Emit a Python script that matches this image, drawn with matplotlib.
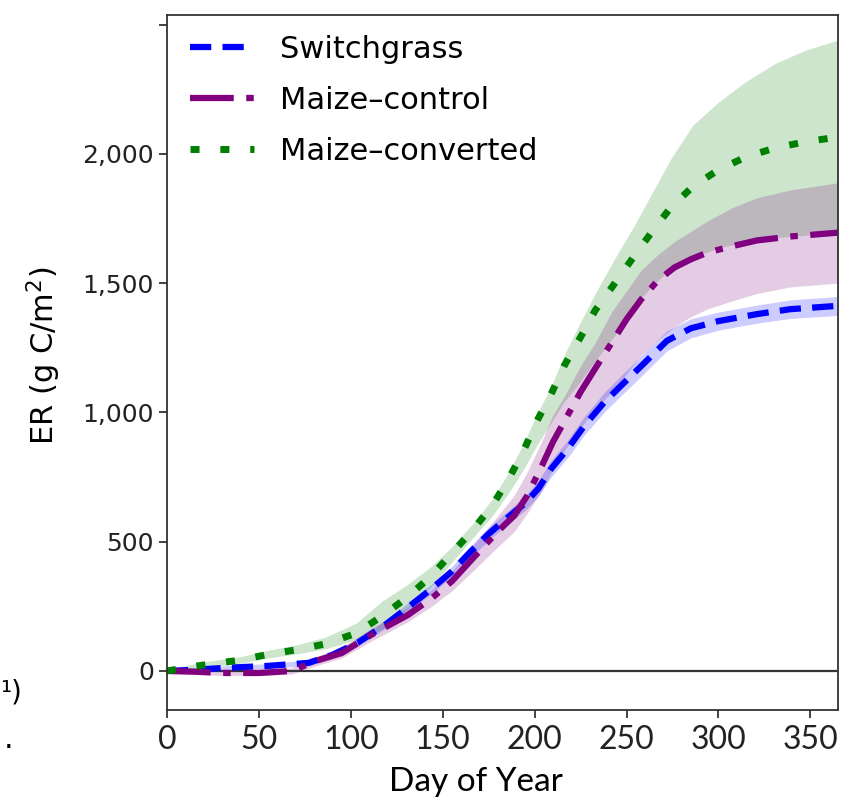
import matplotlib
matplotlib.use('Agg')
import matplotlib.pyplot as plt
from matplotlib.ticker import FuncFormatter

# --- данные ---
sg_day = [0, 14, 32, 54, 77, 90, 104, 119, 131, 144, 155, 165, 175, 184, 195, 202,
          209, 218, 227, 238, 249, 258, 272, 285, 300, 321, 339, 365]
sg_mean = [0, 4, 12, 19, 31, 62, 110, 180, 245, 318, 385, 460, 530, 585, 650, 705,
           782, 859, 948, 1040, 1117, 1179, 1277, 1325, 1353, 1380, 1399, 1412]
sg_lo = [0, -4, 4, 10, 20, 48, 98, 165, 228, 300, 365, 438, 505, 560, 622, 675,
         750, 825, 912, 1002, 1078, 1140, 1238, 1288, 1318, 1345, 1363, 1375]
sg_hi = [6, 12, 20, 28, 42, 76, 124, 195, 262, 336, 405, 482, 555, 610, 678, 735,
         814, 893, 984, 1078, 1156, 1218, 1316, 1362, 1388, 1415, 1435, 1448]

mc_day = [0, 15, 30, 50, 68, 81, 95, 111, 131, 144, 155, 167, 180, 189, 196, 204,
          210, 216, 225, 233, 242, 250, 258, 267, 276, 285, 294, 307, 321, 339, 365]
mc_mean = [0, -3, -8, -8, 0, 39, 69, 139, 216, 281, 347, 440, 540, 601, 678, 794,
           886, 963, 1079, 1170, 1270, 1360, 1437, 1510, 1560, 1592, 1618, 1642, 1665, 1680, 1695]
mc_lo = [-10, -13, -18, -18, -12, 20, 50, 115, 190, 250, 310, 390, 480, 540, 610, 700,
         780, 850, 940, 1010, 1080, 1150, 1220, 1280, 1330, 1370, 1400, 1430, 1460, 1485, 1500]
mc_hi = [10, 7, 2, 2, 12, 55, 90, 165, 245, 315, 385, 490, 600, 680, 770, 890,
         990, 1060, 1180, 1270, 1390, 1470, 1550, 1610, 1660, 1700, 1740, 1790, 1830, 1860, 1888]

cv_day = [0, 20, 40, 55, 70, 86, 103, 117, 130, 143, 155, 167, 177, 186, 194, 201,
          209, 216, 225, 233, 244, 254, 264, 274, 286, 300, 315, 331, 347, 365]
cv_mean = [0, 23, 42, 64, 81, 104, 146, 212, 281, 362, 455, 551, 640, 744, 852, 963,
           1071, 1179, 1291, 1395, 1503, 1603, 1700, 1792, 1873, 1938, 1988, 2023, 2046, 2065]
cv_lo = [-5, 12, 30, 50, 65, 85, 120, 160, 235, 320, 420, 520, 600, 690, 780, 870,
         960, 1040, 1120, 1200, 1300, 1410, 1490, 1555, 1600, 1635, 1660, 1675, 1685, 1690]
cv_hi = [5, 35, 55, 80, 100, 130, 185, 270, 330, 400, 480, 575, 665, 770, 880, 990,
         1100, 1220, 1350, 1460, 1600, 1720, 1850, 1980, 2110, 2200, 2280, 2350, 2400, 2440]

labels = ['Switchgrass', 'Maize–control', 'Maize–converted']
x_ticks = [0, 50, 100, 150, 200, 250, 300, 350]
y_ticks = [0, 500, 1000, 1500, 2000, 2500]

narrow = ['Lato', 'DejaVu Sans']

fig = plt.figure(figsize=(8.54, 8.01), dpi=100)
ax = fig.add_axes([0.1955, 0.114, 0.7857, 0.867])

# полосы неопределённости
ax.fill_between(cv_day, cv_lo, cv_hi, color='#008000', alpha=0.2, linewidth=0)
ax.fill_between(mc_day, mc_lo, mc_hi, color='#800080', alpha=0.2, linewidth=0)
ax.fill_between(sg_day, sg_lo, sg_hi, color='#0000ff', alpha=0.2, linewidth=0)

ax.axhline(0, color='#333333', linewidth=1.6, zorder=1)

ax.plot(sg_day, sg_mean, color='#0000ff', linewidth=4.5, dashes=(3.4, 1.8), label=labels[0])
ax.plot(mc_day, mc_mean, color='#800080', linewidth=4.5, dashes=(7.0, 2.0, 1.2, 2.0), label=labels[1])
ax.plot(cv_day, cv_mean, color='#008000', linewidth=5.0, dashes=(1.3, 3.0), label=labels[2])

ax.set_xlim(0, 365)
ax.set_ylim(-150, 2536)
ax.set_xticks(x_ticks)
ax.set_yticks(y_ticks)
ax.yaxis.set_major_formatter(FuncFormatter(lambda v, p: '' if v > 2200 else f'{int(v):,}'))
ax.tick_params(axis='y', labelsize=18, length=6, width=1.2, colors='#222222')
ax.tick_params(axis='x', length=6, width=1.2, colors='#222222', pad=5)
for lab in ax.get_xticklabels():
    lab.set_family(narrow)
    lab.set_fontsize(23)

for sp in ax.spines.values():
    sp.set_color('#333333')
    sp.set_linewidth(1.3)

ax.set_ylabel('ER (g C/m$^2$)', fontsize=22)
ax.yaxis.set_label_coords(-0.155, 0.51)
ax.set_xlabel('Day of Year', fontsize=24, family=narrow)
ax.xaxis.set_label_coords(0.46, -0.083)

ax.legend(loc='upper left', frameon=False, fontsize=22, handlelength=2.1,
          handletextpad=0.85, labelspacing=0.72, borderaxespad=0.25,
          bbox_to_anchor=(0.005, 1.0))

# обрезанные фрагменты соседнего текста слева
fig.text(0.0, 0.135, '¹)', fontsize=20, family='DejaVu Sans', ha='left', va='center')
fig.text(0.004, 0.077, '.', fontsize=22, family='DejaVu Sans', ha='left', va='center')

plt.savefig('out.png', dpi=100)
